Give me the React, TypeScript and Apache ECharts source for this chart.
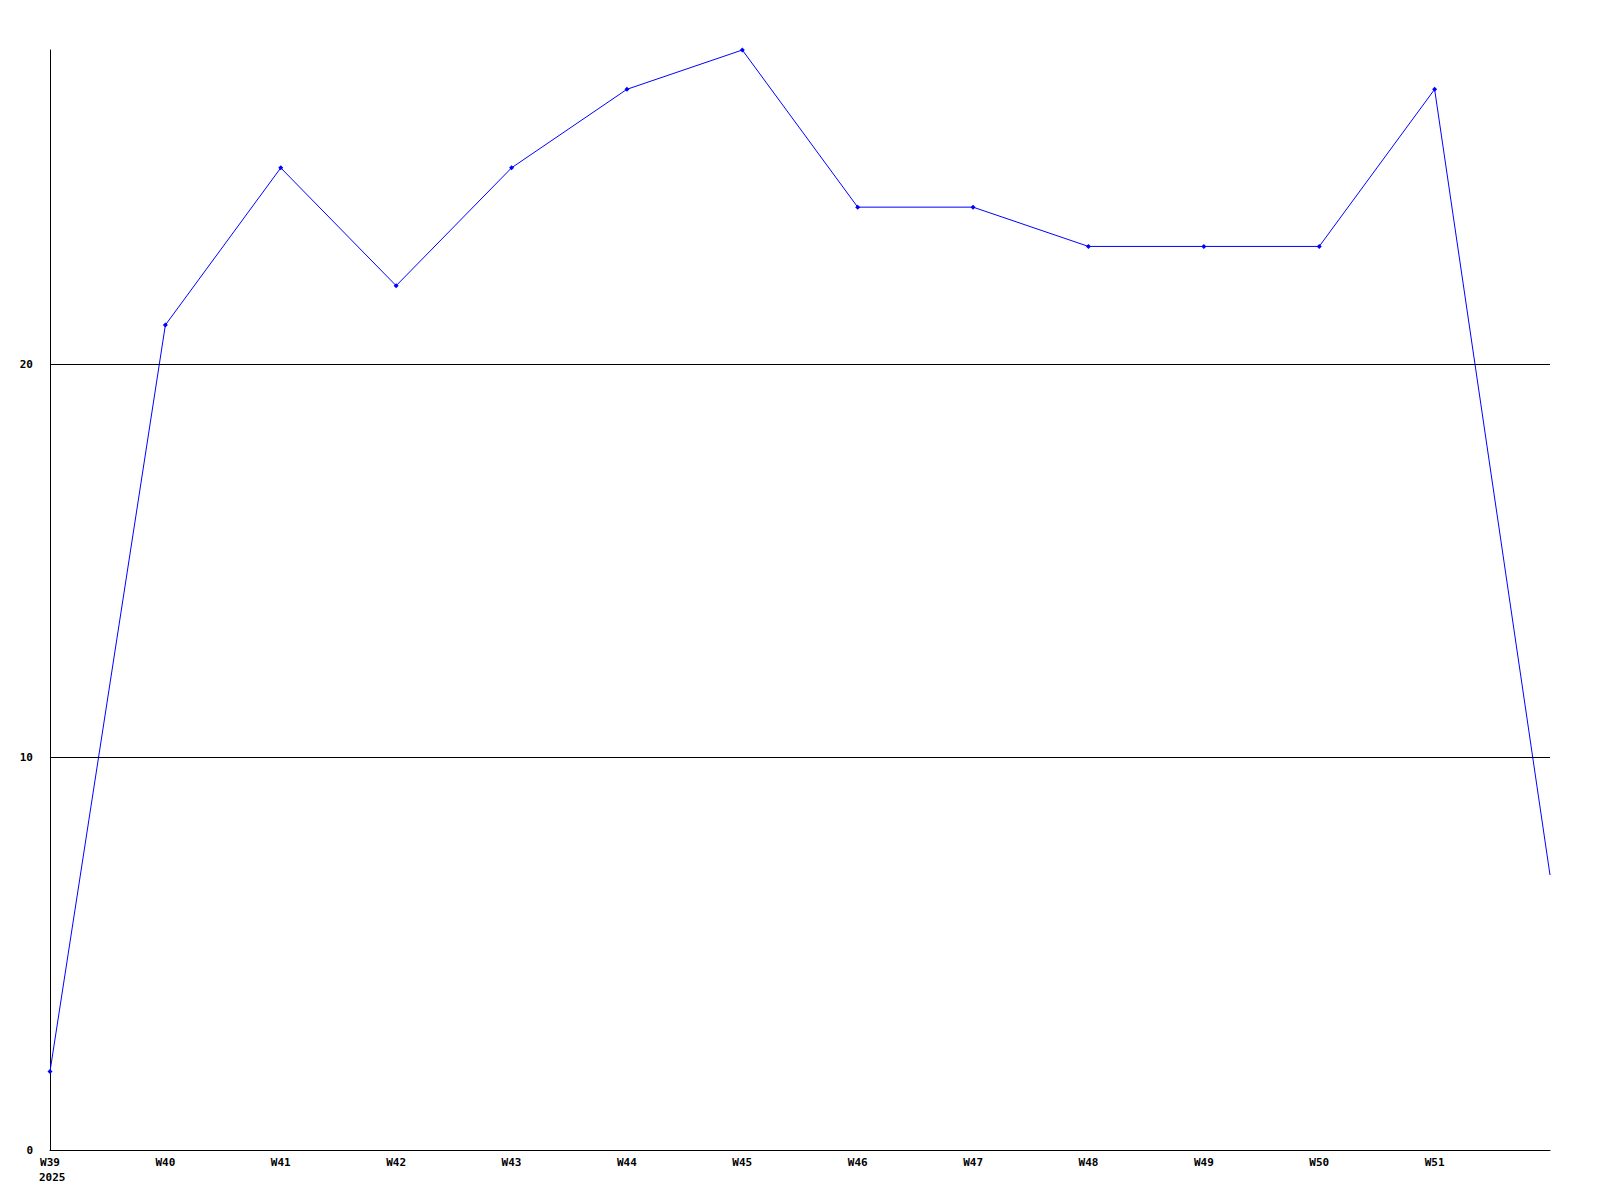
import React, { useEffect, useRef } from "react";
import * as echarts from "echarts";

const weeks = ["W39", "W40", "W41", "W42", "W43", "W44", "W45", "W46", "W47", "W48", "W49", "W50", "W51", "W52"];
const values = [2, 21, 25, 22, 25, 27, 28, 24, 24, 23, 23, 23, 27, 7];
const yearLabel = "2025";
const gridLines = [10, 20];

const FONT = "'DejaVu Sans Mono', monospace";

export default function App() {
  const ref = useRef<HTMLDivElement>(null);
  useEffect(() => {
    if (!ref.current) return;
    const chart = echarts.init(ref.current, undefined, { renderer: "svg" });
    const data = values.map((v, i) => ({
      value: [i, v],
      symbol: i === values.length - 1 ? "none" : "diamond",
    }));
    chart.setOption({
      animation: false,
      backgroundColor: "#ffffff",
      grid: { left: 50, right: 50, top: 50, bottom: 50 },
      xAxis: {
        type: "value",
        min: 0,
        max: weeks.length - 1,
        interval: 1,
        axisLine: { show: true, lineStyle: { color: "#000", width: 1 } },
        axisTick: { show: false },
        splitLine: { show: false },
        axisLabel: {
          show: true,
          margin: 7,
          fontFamily: FONT,
          fontWeight: "bold",
          fontSize: 11,
          color: "#000",
          showMaxLabel: true,
          formatter: (v: number) => (v >= weeks.length - 1 ? "" : weeks[v] ?? ""),
        },
      },
      yAxis: {
        type: "value",
        min: 0,
        max: 28,
        interval: 10,
        axisLine: { show: true, lineStyle: { color: "#000", width: 1 } },
        axisTick: { show: false },
        splitLine: { show: false },
        axisLabel: {
          margin: 17,
          fontFamily: FONT,
          fontWeight: "bold",
          fontSize: 11,
          color: "#000",
          formatter: (v: number) => (v % 10 === 0 ? String(v) : ""),
        },
      },
      series: [
        {
          type: "line",
          data,
          symbolSize: 5,
          lineStyle: { color: "#0000ff", width: 1 },
          itemStyle: { color: "#0000ff" },
          markLine: {
            silent: true,
            symbol: "none",
            label: { show: false },
            lineStyle: { color: "#000", width: 1, type: "solid" },
            data: gridLines.map((g) => ({ yAxis: g })),
          },
          z: 3,
        },
      ],
    });
    const p = chart.convertToPixel({ gridIndex: 0 }, [0, 0]) as number[];
    chart.setOption({
      graphic: [
        {
          type: "text",
          x: p[0] - 11,
          y: p[1] + 22,
          style: {
            text: yearLabel,
            fontFamily: FONT,
            fontWeight: "bold",
            fontSize: 11,
            fill: "#000",
          },
        },
      ],
    });
    return () => chart.dispose();
  }, []);
  return (
    <div
      ref={ref}
      style={{ position: "fixed", left: 0, top: 0, width: 1600, height: 1200 }}
    />
  );
}
